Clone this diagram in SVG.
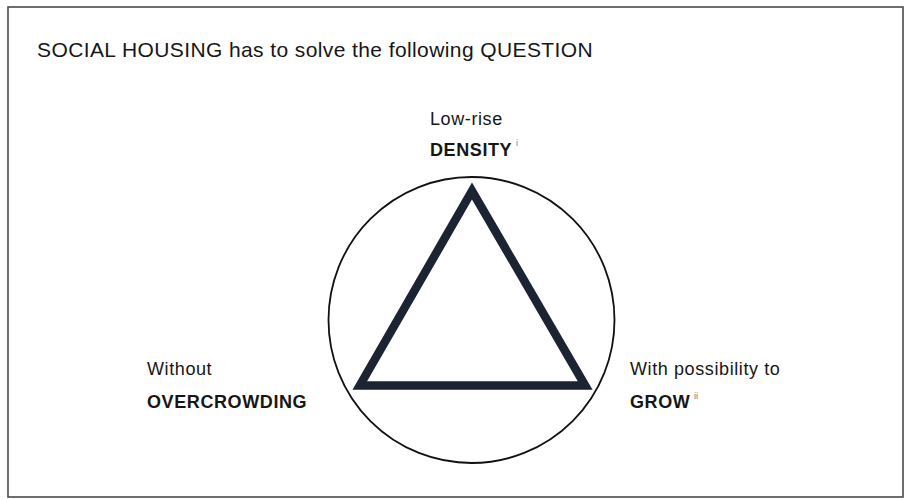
<svg xmlns="http://www.w3.org/2000/svg" width="906" height="500" viewBox="0 0 906 500">
<style>
.t{font-family:"Liberation Sans",Arial,Helvetica,sans-serif;fill:#161616;}
.r{font-size:18px;letter-spacing:0.6px;}
.b{font-size:18px;font-weight:bold;letter-spacing:0.6px;}
.sup{font-family:"Liberation Sans",Arial,sans-serif;font-size:9px;fill:#777;}
</style>
<rect x="0" y="0" width="906" height="500" fill="#ffffff"/>
<rect x="8" y="7" width="895" height="490" fill="none" stroke="#4a4a4a" stroke-width="1.6"/>
<text class="t" x="37" y="57" font-size="21" letter-spacing="0.4">SOCIAL HOUSING has to solve the following QUESTION</text>
<g id="figure">
<circle cx="471.5" cy="320" r="143" fill="none" stroke="#111" stroke-width="1.8"/>
<polygon points="472,191 585.2,385.5 359.8,385.5" fill="none" stroke="#1c2333" stroke-width="8.5" stroke-linejoin="miter" stroke-miterlimit="10"/>
</g>
<g id="node-density">
<text class="t r" x="430" y="125">Low-rise</text>
<text class="t b" x="430" y="156">DENSITY</text>
<text class="sup" x="516" y="146">i</text>
</g>
<g id="node-overcrowding">
<text class="t r" x="147" y="375">Without</text>
<text class="t b" x="147" y="408">OVERCROWDING</text>
</g>
<g id="node-grow">
<text class="t r" x="630" y="375">With possibility to</text>
<text class="t b" x="630" y="408">GROW</text>
<text class="sup" x="694" y="399">ii</text>
</g>
<g id="connectors"></g>
</svg>
